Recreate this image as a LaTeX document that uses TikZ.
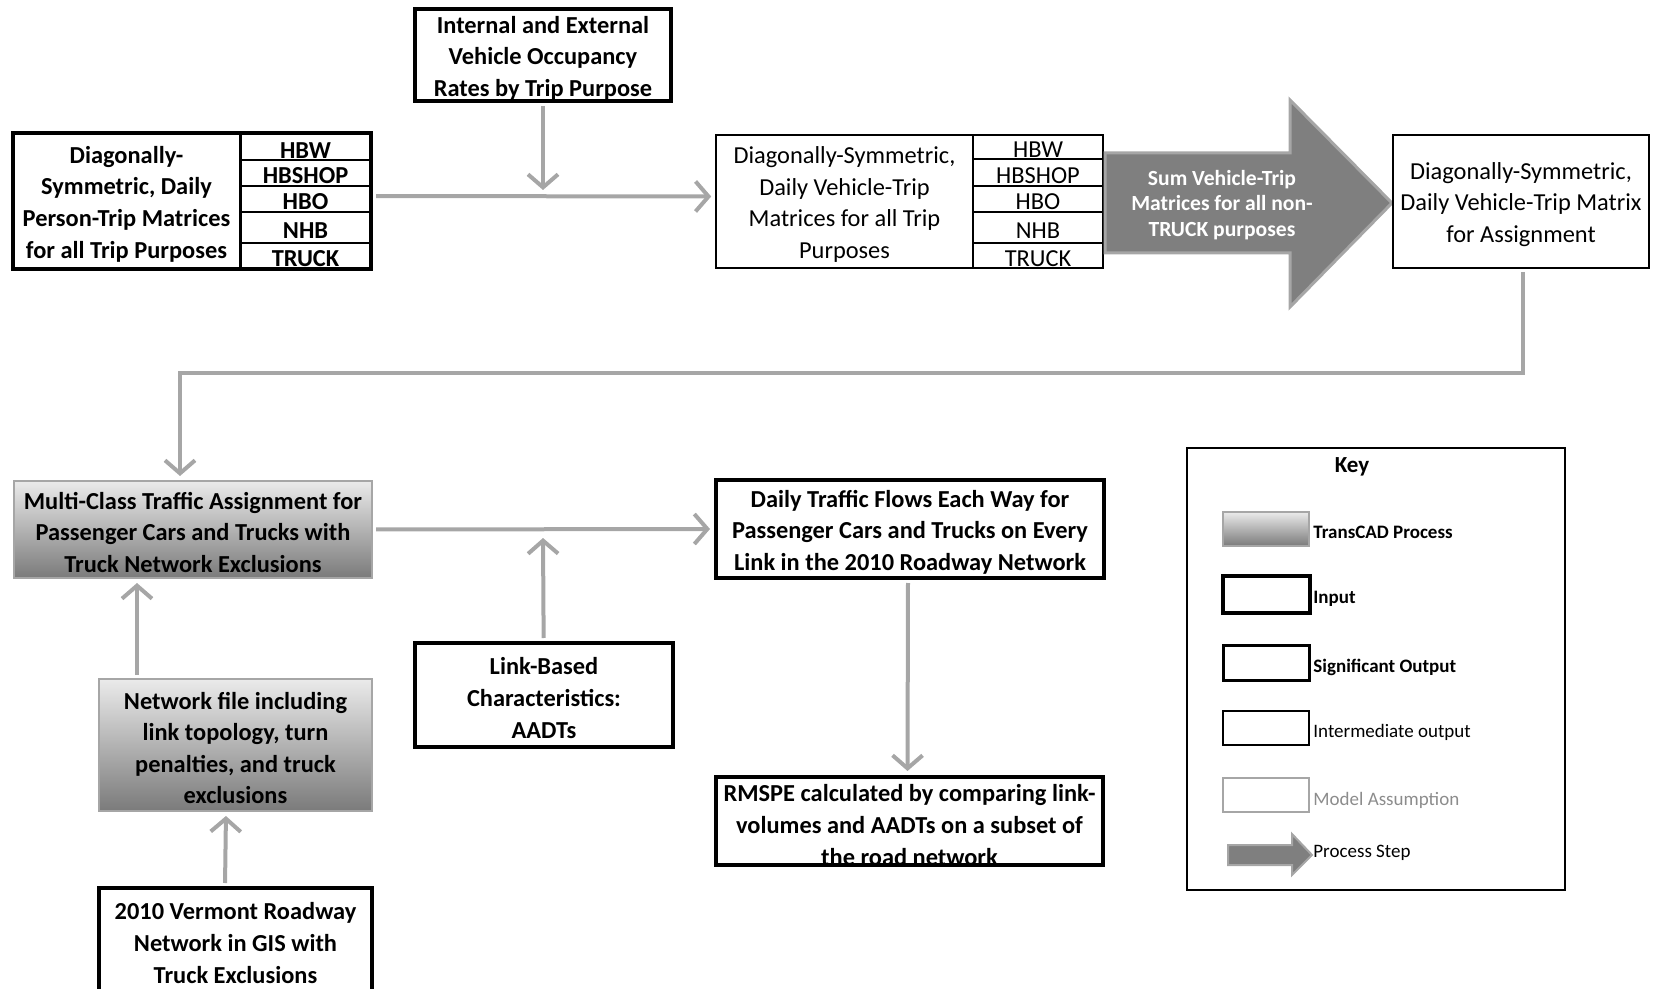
\documentclass[tikz,border=0pt]{standalone}
\usepackage{fontspec}
\setmainfont{Carlito}
\usetikzlibrary{arrows.meta,fit}
\definecolor{linegray}{HTML}{A6A6A6}
\definecolor{arrfill}{HTML}{7F7F7F}
\definecolor{asmgray}{HTML}{8C8C8C}
\newcommand\fmain{\fontsize{12.2}{15.8}\selectfont}
\newcommand\fsum{\fontsize{10.8}{12.6}\selectfont}
\newcommand\fkey{\fontsize{9.5}{11}\selectfont}
\tikzset{
  inbox/.style={inner sep=0pt, fill=white, draw=black, line width=2pt},
  midbox/.style={inner sep=0pt, fill=white, draw=black, line width=0.8pt},
  procbox/.style={inner sep=0pt, draw=linegray, line width=1pt, top color=black!8, bottom color=black!52},
  txt/.style={align=center, font=\fmain, inner sep=0pt, yshift=-1.5pt},
  btxt/.style={align=center, font=\fmain\bfseries, inner sep=0pt, yshift=-1.5pt},
  flow/.style={draw=linegray, line width=2pt, shorten <=1.5pt, shorten >=2pt,
    -{Straight Barb[length=6.5pt,width=15pt]}},
  bigarrow/.style={fill=arrfill, draw=linegray, line width=1.5pt, line join=miter},
  keytxt/.style={anchor=west, inner sep=0pt, font=\fkey},
}
\begin{document}
\begin{tikzpicture}[x=0.5pt,y=-0.5pt]
\useasboundingbox (0,0) rectangle (1654,989);

% occupancy input
\node[inbox, fit={(415,9)(671,101)}, label={[btxt]center:Internal and External\\Vehicle Occupancy\\Rates by Trip Purpose}] (occ) {};

% person-trip matrices
\node[inbox, fit={(13,133)(371,269)}] (ptrip) {};
\draw[line width=1.5pt] (240,133) -- (240,269);
\foreach \yy in {160,186,212,243} \draw[line width=1pt] (240,\yy) -- (371,\yy);
\node[btxt] (ptxt) at (126.5,201) {Diagonally-\\Symmetric, Daily\\Person-Trip Matrices\\for all Trip Purposes};
\node[btxt] (p1) at (305.5,148) {HBW};
\node[btxt] (p2) at (305.5,173) {HBSHOP};
\node[btxt] (p3) at (305.5,199) {HBO};
\node[btxt] (p4) at (305.5,228) {NHB};
\node[btxt] (p5) at (305.5,256) {TRUCK};

% vehicle-trip matrices
\node[midbox, fit={(716,135)(1103,268)}] (vtrip) {};
\draw[line width=0.8pt] (973,135) -- (973,268);
\foreach \yy in {159,186,212,243} \draw[line width=0.8pt] (973,\yy) -- (1103,\yy);
\node[txt] (vtxt) at (844.5,201.5) {Diagonally-Symmetric,\\Daily Vehicle-Trip\\Matrices for all Trip\\Purposes};
\node[txt] (v1) at (1038,147) {HBW};
\node[txt] (v2) at (1038,172.5) {HBSHOP};
\node[txt] (v3) at (1038,199) {HBO};
\node[txt] (v4) at (1038,228) {NHB};
\node[txt] (v5) at (1038,256) {TRUCK};

% big process arrow
\draw[bigarrow] (1105,153) -- (1290,153) -- (1290,100) -- (1392,203) -- (1290,307) -- (1290,253) -- (1105,253) -- cycle;
\node[align=center, font=\fsum\bfseries, text=white, inner sep=0pt] (sumtxt) at (1222,205) {Sum Vehicle-Trip\\Matrices for all non-\\TRUCK purposes};

% assignment matrix
\node[midbox, fit={(1393,135)(1649,268)}, label={[txt]center:Diagonally-Symmetric,\\Daily Vehicle-Trip Matrix\\for Assignment}] (assign) {};

% multi-class assignment
\node[procbox, fit={(14,481)(372,578)}, label={[btxt]center:Multi-Class Traffic Assignment for\\Passenger Cars and Trucks with\\Truck Network Exclusions}] (multi) {};

% network file
\node[procbox, fit={(99,679)(372,811)}, label={[btxt]center:Network file including\\link topology, turn\\penalties, and truck\\exclusions}] (netf) {};

% vermont GIS network
\node[inbox, fit={(99,888)(372,1010)}] (verm) {};
\node[btxt] (vermtxt) at (235.5,940) {2010 Vermont Roadway\\Network in GIS with\\Truck Exclusions};

% link-based characteristics
\node[inbox, fit={(415,643)(673,747)}, label={[btxt]center:Link-Based\\Characteristics:\\AADTs}] (link) {};

% daily traffic flows
\node[inbox, fit={(716,480)(1104,578)}, label={[btxt]center:Daily Traffic Flows Each Way for\\Passenger Cars and Trucks on Every\\Link in the 2010 Roadway Network}] (daily) {};

% RMSPE
\node[inbox, fit={(716,777)(1103,865)}] (rmspe) {};
\node[btxt] (rmtxt) at (909.5,822) {RMSPE calculated by comparing link-\\volumes and AADTs on a subset of\\the road network};

% connectors
\coordinate (occtip) at (543,190);
\coordinate (linktip) at (543,538);
\coordinate (bend) at (180,373);
\draw[flow] ([yshift=2.5pt]ptrip.east) -- ([yshift=2.5pt]vtrip.west);
\draw[flow, shorten >=0pt] (occ) -- (occtip);
\draw[flow] (multi.east) -- (daily.west);
\draw[flow, shorten >=0pt] (link) -- (linktip);
\draw[flow] ([xshift=-1pt]daily.south) -- ([xshift=-1pt]rmspe.north);
\draw[flow] ([xshift=19.5pt]netf.north west) -- ([xshift=62pt]multi.south west);
\draw[flow] ([xshift=64pt]verm.north west) -- ([xshift=64pt]netf.south west);
\draw[flow] ([xshift=1pt]assign.south) |- (bend) -- ([xshift=-6.5pt]multi.north);

% key
\node[draw, line width=1pt, inner sep=0pt, fit={(1187,448)(1565,890)}] (key) {};
\node[font=\fontsize{11.5}{13}\selectfont\bfseries, inner sep=0pt] (keyt) at (1352,467) {Key};
\node[procbox, fit={(1223,512)(1309,546)}] (k1) {};
\node[keytxt, font=\fkey\bfseries] (k1t) at (1313,532) {TransCAD Process};
\node[inbox, fit={(1223,576)(1310,613)}] (k2) {};
\node[keytxt, font=\fkey\bfseries] (k2t) at (1313,599) {Input};
\node[draw, line width=1.5pt, inner sep=0pt, fit={(1223,645)(1309,680)}] (k3) {};
\node[keytxt, font=\fkey\bfseries] (k3t) at (1313,667) {Significant Output};
\node[draw, line width=1pt, inner sep=0pt, fit={(1223,711)(1309,745)}] (k4) {};
\node[keytxt] (k4t) at (1313,732) {Intermediate output};
\node[draw=linegray, line width=1pt, inner sep=0pt, fit={(1223,778)(1309,812)}] (k5) {};
\node[keytxt, text=asmgray] (k5t) at (1313,800) {Model Assumption};
\draw[bigarrow, line width=1pt] (1228,845) -- (1292,845) -- (1292,834) -- (1312,855) -- (1292,875) -- (1292,865) -- (1228,865) -- cycle;
\node[keytxt] (k6t) at (1313,853) {Process Step};
\end{tikzpicture}
\end{document}
